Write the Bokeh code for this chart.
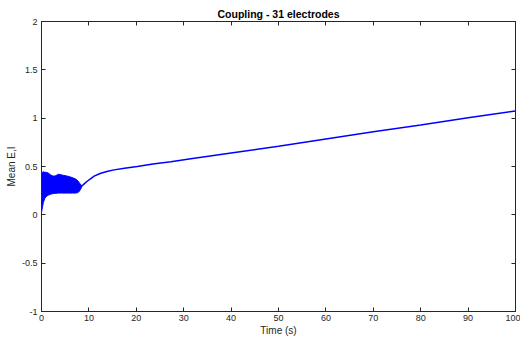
from bokeh.plotting import figure
from bokeh.models import LinearAxis, FixedTicker, Range1d, ColumnDataSource
from bokeh.embed import file_html
from bokeh.resources import INLINE

# Oscillating start-up phase: lower / upper envelope of the mean activity
band_t = [0.0, 0.1, 0.2, 0.4, 0.7, 1.0, 1.5, 2.0, 2.5, 3.0, 3.6, 4.5, 5.5, 6.5, 7.2, 7.7, 8.0, 8.3, 8.6]
band_lo = [0.03, 0.05, 0.08, 0.13, 0.17, 0.19, 0.205, 0.215, 0.22, 0.222, 0.225, 0.225, 0.225, 0.225, 0.225, 0.23, 0.245, 0.27, 0.30]
band_hi = [0.42, 0.44, 0.44, 0.445, 0.44, 0.44, 0.43, 0.41, 0.40, 0.405, 0.42, 0.41, 0.40, 0.385, 0.37, 0.35, 0.33, 0.31, 0.30]

# Smooth drift after the oscillations die out
time_s = [8.6, 9.0, 9.7, 10.4, 11.1, 12.5, 14.0, 15.3, 17.5, 20.2, 23.5, 27.3, 31.5, 40.0, 50.0, 60.0, 70.0, 80.0, 90.0, 100.0]
mean_ei = [0.30, 0.32, 0.35, 0.375, 0.40, 0.43, 0.45, 0.465, 0.483, 0.50, 0.525, 0.55, 0.58, 0.64, 0.71, 0.785, 0.86, 0.93, 1.005, 1.075]

x_ticks = [0, 10, 20, 30, 40, 50, 60, 70, 80, 90, 100]
y_ticks = [-1, -0.5, 0, 0.5, 1, 1.5, 2]
y_tick_labels = ["-1", "-0.5", "0", "0.5", "1", "1.5", "2"]

AX = "#262626"
FONT = "Liberation Sans"

p = figure(width=520, height=338, output_backend="svg", toolbar_location=None,
           x_range=Range1d(0, 100), y_range=Range1d(-1, 2),
           title="Coupling - 31 electrodes",
           min_border_left=41, min_border_right=5, min_border_top=21, min_border_bottom=27)

p.title.align = "center"
p.title.text_font = FONT
p.title.text_font_size = "10.5px"
p.title.text_font_style = "bold"
p.title.text_color = "black"
p.title.offset = 0
p.title.standoff = 3

p.grid.visible = False
p.background_fill_color = "white"
p.border_fill_color = "white"
p.outline_line_color = AX
p.outline_line_width = 1

band = ColumnDataSource(dict(t=band_t, lo=band_lo, hi=band_hi))
p.varea(x="t", y1="lo", y2="hi", source=band, fill_color="#0000ff")
p.line(band_t, band_lo, line_color="#0000ff", line_width=1)
p.line(band_t, band_hi, line_color="#0000ff", line_width=1)
p.line(time_s, mean_ei, line_color="#0000ff", line_width=1.5)

# top and right axes carry inward ticks only
top_axis = LinearAxis()
right_axis = LinearAxis()
p.add_layout(top_axis, "above")
p.add_layout(right_axis, "right")

for ax in p.xaxis:
    ax.ticker = FixedTicker(ticks=x_ticks)
for ax in p.yaxis:
    ax.ticker = FixedTicker(ticks=y_ticks)
    ax.major_label_overrides = {t: s for t, s in zip(y_ticks, y_tick_labels)}

for ax in p.axis:
    ax.axis_line_color = AX
    ax.major_tick_line_color = AX
    ax.major_tick_in = 4
    ax.major_tick_out = 0
    ax.minor_tick_line_color = None
    ax.major_label_text_font = FONT
    ax.major_label_text_font_size = "9px"
    ax.major_label_text_color = AX
    ax.axis_label_text_font = FONT
    ax.axis_label_text_font_size = "10px"
    ax.axis_label_text_font_style = "normal"
    ax.axis_label_text_color = AX

for ax in (top_axis, right_axis):
    ax.major_label_text_color = None
    ax.major_label_standoff = 0

p.below[0].axis_label = "Time (s)"
p.below[0].major_label_standoff = 3
p.below[0].axis_label_standoff = 1
p.left[0].axis_label = "Mean E,I"
p.left[0].major_label_standoff = 4
p.left[0].axis_label_standoff = 2

open("out.html", "w").write(file_html(p, INLINE))
